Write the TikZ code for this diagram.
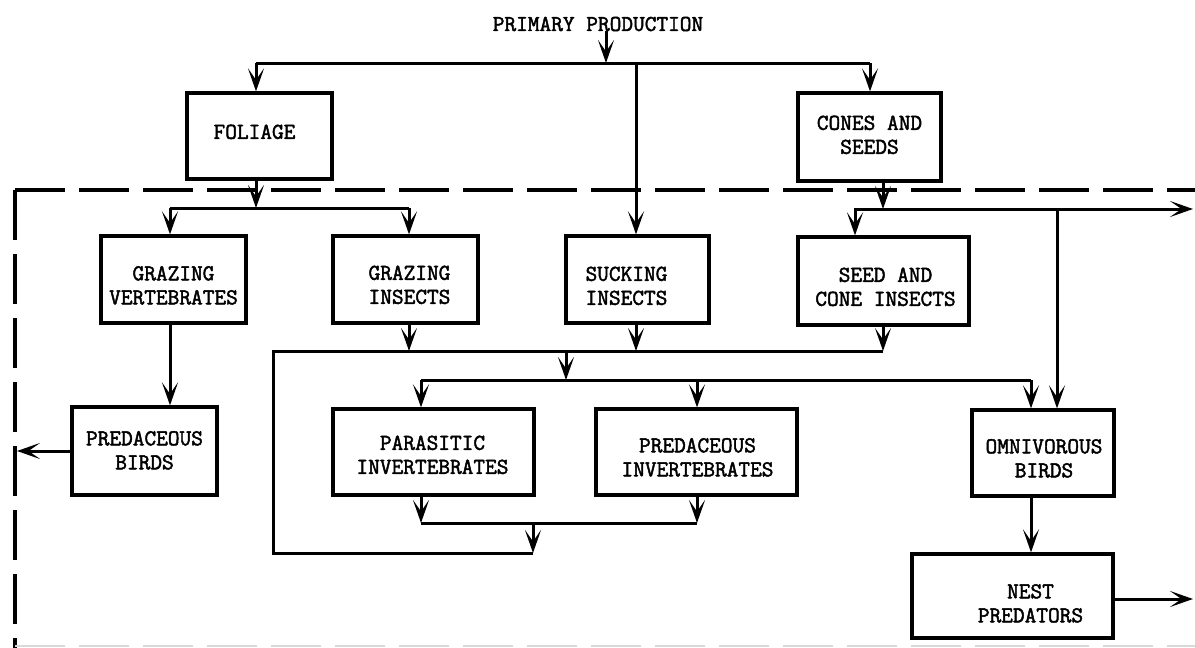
\documentclass[tikz,border=0pt]{standalone}
\usepackage{fontspec}
\usetikzlibrary{arrows.meta}
% typewriter face with a little extra weight
\newfontfamily\typer{lmmono12-regular}[Extension=.otf, FakeBold=2]
% two-line box text, shifted by (#1 right, #2 down) inside its box
\newcommand\boxtext[3]{\kern#1\raisebox{-#2}[\height][\depth]{\begin{tabular}{@{}c@{}}#3\end{tabular}}\kern-#1}
\tikzset{
  txt/.style={font=\fontsize{22.7}{24}\selectfont\typer, inner sep=0pt},
  box/.style={txt, draw, line width=3.2pt, rectangle},
  flow/.style={line width=3pt},
  arr/.style={flow, arrows={-Stealth[length=23pt,width=16pt,inset=11.5pt]}},
  frame/.style={line width=3.2pt, dash pattern=on 50pt off 14pt}}
\begin{document}
\begin{tikzpicture}[x=1pt,y=-1pt]
\useasboundingbox (0,0) rectangle (1195,648);

% title and boxes
\node[txt] (pp) at (598,24) {PRIMARY PRODUCTION};
\node[box, minimum width=145pt, minimum height=86pt] (foliage) at (259.5,136) {\boxtext{-5pt}{-2pt}{FOLIAGE}};
\node[box, minimum width=143pt, minimum height=88pt] (cones) at (869.5,137) {\boxtext{0pt}{0pt}{CONES AND\\SEEDS}};
\node[box, minimum width=145pt, minimum height=87pt] (gvert) at (173.5,279.5) {\boxtext{0pt}{8pt}{GRAZING\\VERTEBRATES}};
\node[box, minimum width=145pt, minimum height=87pt] (gins) at (405.5,279.5) {\boxtext{4pt}{7.5pt}{GRAZING\\INSECTS}};
\node[box, minimum width=143pt, minimum height=87pt] (suck) at (637.5,279.5) {\boxtext{-11pt}{8.5pt}{SUCKING\\INSECTS}};
\node[box, minimum width=171pt, minimum height=88pt] (seed) at (883.5,281) {\boxtext{2pt}{8pt}{SEED AND\\CONE INSECTS}};
\node[box, minimum width=145pt, minimum height=88pt] (pbirds) at (144.5,451) {\boxtext{0pt}{1.5pt}{PREDACEOUS\\BIRDS}};
\node[box, minimum width=201pt, minimum height=86pt] (parasit) at (433.5,452) {\boxtext{-1pt}{5pt}{PARASITIC\\INVERTEBRATES}};
\node[box, minimum width=201pt, minimum height=86pt] (pinv) at (696.5,452) {\boxtext{1pt}{7.5pt}{PREDACEOUS\\INVERTEBRATES}};
\node[box, minimum width=142pt, minimum height=86pt] (omni) at (1043,453) {\boxtext{1pt}{7.5pt}{OMNIVOROUS\\BIRDS}};
\node[box, minimum width=201pt, minimum height=84pt] (nest) at (1012.5,596) {\boxtext{18pt}{9.5pt}{NEST\\PREDATORS}};

% junction points of the flow lines
\coordinate (jpp) at (606,63);
\coordinate (bf) at (256,63);
\coordinate (bs) at (636,63);
\coordinate (bc) at (870,63);
\coordinate (jf) at (256,208);
\coordinate (jgv) at (170,208);
\coordinate (jgi) at (409,208);
\coordinate (jc) at (883,209);
\coordinate (sl) at (855,209);
\coordinate (jo) at (1057,209);
\coordinate (exitA) at (1193,209);
\coordinate (ci) at (409,351);
\coordinate (cs) at (636,351);
\coordinate (cr) at (883,351);
\coordinate (cm) at (566,351);
\coordinate (cl) at (273,351);
\coordinate (lb) at (273,553);
\coordinate (lbr) at (533,553);
\coordinate (dm) at (566,380);
\coordinate (dl) at (421,380);
\coordinate (dp) at (697,380);
\coordinate (dr) at (1031,380);
\coordinate (ol) at (421,523);
\coordinate (orr) at (697,523);
\coordinate (om) at (533,523);
\coordinate (exitL) at (17,451);
\coordinate (exitB) at (1193,599);
\coordinate (frc) at (15,190);

% community boundary
\draw[frame] (frc) -- (1195,190);
\draw[frame] (frc) -- (15,648);
\draw[frame, gray!30, line width=1.6pt] (15,646) -- (1195,646);

% primary production to the first trophic level
\draw[arr] (pp.south -| jpp) -- (jpp);
\draw[flow] (bf) -- (bc);
\draw[arr] (bf) -- (bf |- foliage.north);
\draw[arr] (bc) -- (bc |- cones.north);
\draw[arr] (bs) -- (bs |- suck.north);

% foliage branch
\draw[arr] (foliage.south -| jf) -- (jf);
\draw[flow] (jgv) -- (jgi);
\draw[arr] (jgv) -- (jgv |- gvert.north);
\draw[arr] (jgi) -- (jgi |- gins.north);
\draw[arr] (gvert.south -| jgv) -- (jgv |- pbirds.north);
\draw[arr] (pbirds.west) -- (exitL);

% cones and seeds branch
\draw[arr] (cones.south -| jc) -- (jc);
\draw[arr] (jc) -- (exitA);
\draw[arr] (jc) -- (sl) -- (sl |- seed.north);
\draw[arr] (jo) -- (jo |- omni.north);

% insect collector and invertebrate predators
\draw[arr] (gins.south -| ci) -- (ci);
\draw[arr] (suck.south -| cs) -- (cs);
\draw[arr] (seed.south -| cr) -- (cr);
\draw[flow] (cr) -- (cl) -- (lb) -- (lbr);
\draw[arr] (cm) -- (dm);
\draw[flow] (dl) -- (dr);
\draw[arr] (dl) -- (dl |- parasit.north);
\draw[arr] (dp) -- (dp |- pinv.north);
\draw[arr] (dr) -- (dr |- omni.north);
\draw[arr] (parasit.south -| ol) -- (ol);
\draw[arr] (pinv.south -| orr) -- (orr);
\draw[flow] (ol) -- (orr);
\draw[arr] (om) -- (lbr);

% birds
\draw[arr] (omni.south -| dr) -- (dr |- nest.north);
\draw[arr] (exitB -| nest.east) -- (exitB);
\end{tikzpicture}
\end{document}
